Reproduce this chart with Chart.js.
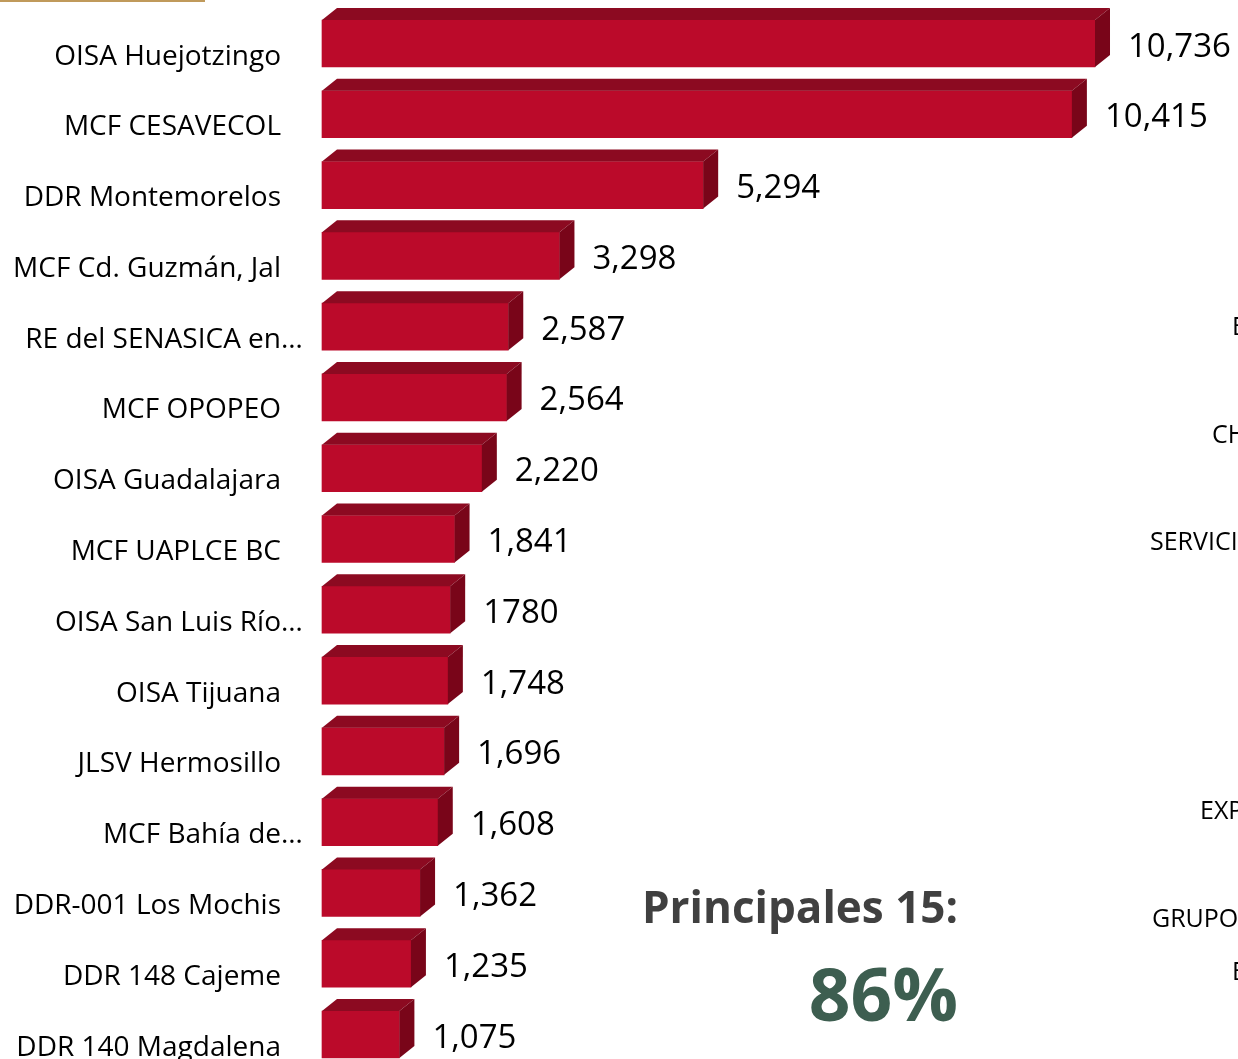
<!DOCTYPE html>
<html>
<head>
<meta charset="utf-8">
<script src="https://cdn.jsdelivr.net/npm/chart.js@4.4.1/dist/chart.umd.min.js"></script>
<style>
  html, body { margin: 0; padding: 0; background: #fff; overflow: hidden; }
  #wrap { position: relative; width: 1238px; height: 1059px; overflow: hidden; }
  #chart { position: absolute; left: 0; top: 0; }
  .goldline { position: absolute; left: 0; top: 0; width: 205px; height: 2px; background: #c09a5b; }
  .cut { position: absolute; font-family: "Open Sans", sans-serif; font-size: 25px; font-weight: 500; color: #000; white-space: nowrap; line-height: 1; }
  .total { position: absolute; font-family: "Open Sans", sans-serif; font-weight: bold; white-space: nowrap; line-height: 1; text-align: right; }
</style>
</head>
<body>
<div id="wrap">
  <canvas id="chart" width="1238" height="1059"></canvas>
  <div class="goldline"></div>
  <div class="cut" style="left:1232px;top:313px">E</div>
  <div class="cut" style="left:1212px;top:421px">CH</div>
  <div class="cut" style="left:1150px;top:528px">SERVICIO</div>
  <div class="cut" style="left:1200px;top:797px">EXP</div>
  <div class="cut" style="left:1152px;top:905px">GRUPO</div>
  <div class="cut" style="left:1232px;top:958px">E</div>
  <div class="total" style="right:280px;top:884px;font-size:44px;color:#404040">Principales 15:</div>
  <div class="total" style="right:280px;top:956px;font-size:73px;color:#3d5e50">86%</div>
</div>
<script>
"use strict";
var categories = [
  "OISA Huejotzingo",
  "MCF CESAVECOL",
  "DDR Montemorelos",
  "MCF Cd. Guzmán, Jal",
  "RE del SENASICA en…",
  "MCF OPOPEO",
  "OISA Guadalajara",
  "MCF UAPLCE BC",
  "OISA San Luis Río…",
  "OISA Tijuana",
  "JLSV Hermosillo",
  "MCF Bahía de…",
  "DDR-001 Los Mochis",
  "DDR 148 Cajeme",
  "DDR 140 Magdalena"
];
var values = [10736, 10415, 5294, 3298, 2587, 2564, 2220, 1841, 1780, 1748, 1696, 1608, 1362, 1235, 1075];
var valueLabels = ["10,736", "10,415", "5,294", "3,298", "2,587", "2,564", "2,220", "1,841", "1780", "1,748", "1,696", "1,608", "1,362", "1,235", "1,075"];

var frontColor = "#bb0a2a",
  topColor = "#8c0a21",
  sideColor = "#790519",
  depthX = 15,
  depthY = 12;

// 3D faces + labels drawn from the bar elements
var bar3d = {
  id: "bar3d",
  afterDatasetsDraw: function (chart) {
    var ctx = chart.ctx,
      yScale = chart.scales.y;
    ctx.save();
    chart.getDatasetMeta(0).data.forEach(function (bar, i) {
      var p = bar.getProps(["x", "y", "base", "height"], true),
        t = p.y - p.height / 2,
        b = p.y + p.height / 2;
      ctx.fillStyle = topColor;
      ctx.beginPath();
      ctx.moveTo(p.base, t);
      ctx.lineTo(p.base + depthX, t - depthY);
      ctx.lineTo(p.x + depthX, t - depthY);
      ctx.lineTo(p.x, t);
      ctx.closePath();
      ctx.fill();
      ctx.fillStyle = sideColor;
      ctx.beginPath();
      ctx.moveTo(p.x, t);
      ctx.lineTo(p.x + depthX, t - depthY);
      ctx.lineTo(p.x + depthX, b - depthY);
      ctx.lineTo(p.x, b);
      ctx.closePath();
      ctx.fill();

      ctx.fillStyle = "#000";
      ctx.textBaseline = "alphabetic";
      ctx.font = "500 33px 'Open Sans'";
      ctx.textAlign = "left";
      ctx.fillText(valueLabels[i], p.x + 33, p.y + 13);
    });

    ctx.font = "500 28px 'Open Sans'";
    categories.forEach(function (c, i) {
      var y = yScale.getPixelForValue(i) + 21;
      if (c.slice(-1) === "…") {
        ctx.textAlign = "right";
        ctx.fillText(c.slice(0, -1), 281, y);
        ctx.textAlign = "left";
        ctx.fillText("…", 281, y);
      } else {
        ctx.textAlign = "right";
        ctx.fillText(c, 281, y);
      }
    });
    ctx.restore();
  }
};

new Chart(document.getElementById("chart").getContext("2d"), {
  type: "bar",
  data: {
    labels: categories,
    datasets: [
      {
        data: values,
        backgroundColor: frontColor,
        borderWidth: 0,
        barThickness: 47,
        clip: false
      }
    ]
  },
  options: {
    indexAxis: "y",
    responsive: false,
    animation: false,
    layout: { padding: { left: 322, right: 0, top: 43.5, bottom: 24.5 } },
    plugins: { legend: { display: false }, tooltip: { enabled: false } },
    scales: {
      x: { display: false, min: 0, max: 12722 },
      y: { display: false, offset: false }
    }
  },
  plugins: [bar3d]
});
</script>
</body>
</html>
